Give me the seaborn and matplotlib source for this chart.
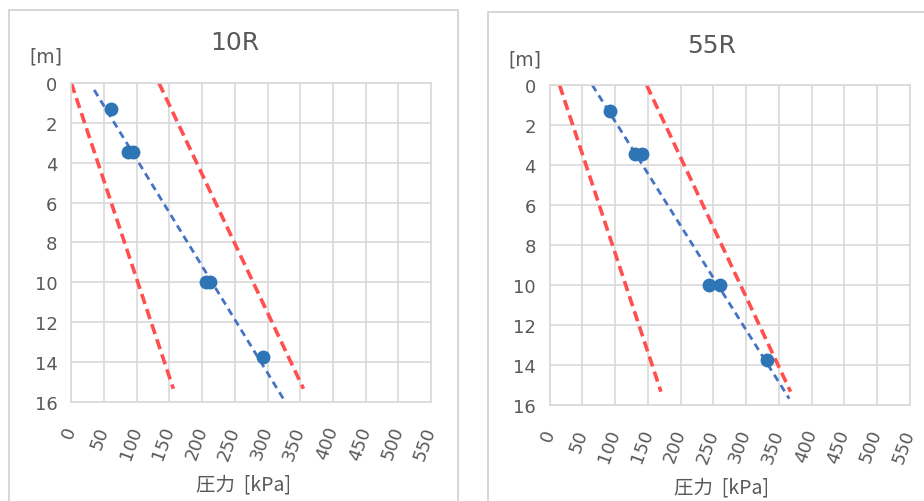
import matplotlib
matplotlib.use("Agg")
import matplotlib.pyplot as plt
import seaborn as sns
from matplotlib.patches import Rectangle

# Data
PANELS = ["10R", "55R"]

# measured points (pressure kPa, depth m)
pts_10r_p = [60, 86, 94, 206, 212, 293]
pts_10r_z = [1.3, 3.45, 3.45, 10.0, 10.0, 13.75]
pts_55r_p = [92, 131, 141, 244, 260, 332]
pts_55r_z = [1.3, 3.45, 3.45, 10.0, 10.0, 13.75]

# fitted line (blue dashed)
fit_10r_p = [35, 327]
fit_10r_z = [0.35, 16.0]
fit_55r_p = [65, 366]
fit_55r_z = [0.0, 15.7]

# bounds (red dashed)
low_10r_p = [0, 156]
high_10r_p = [134, 355]
low_55r_p = [15, 170]
high_55r_p = [148, 368]
bound_z = [0.0, 15.35]

x_ticks = list(range(0, 551, 50))
y_ticks = list(range(0, 17, 2))

BLUE_PT = "#2E75B6"
BLUE_LN = "#4472C4"
RED = "#FF4F4F"
GRID = "#D9D9D9"
TXT = "#595959"

sns.set_theme(style="white")
plt.rcParams["font.family"] = ["DejaVu Sans", "Noto Sans CJK JP"]

fig = plt.figure(figsize=(9.24, 5.02), dpi=100)
W, H = 924, 502

# panel frames
fig.patches.append(Rectangle((9 / W, -0.1), (458 - 9) / W, (H - 11) / H + 0.1,
                             transform=fig.transFigure, fill=False, edgecolor="#D0D0D0", lw=1.2))
fig.patches.append(Rectangle((488 / W, -0.1), 0.5, (H - 13) / H + 0.1,
                             transform=fig.transFigure, fill=False, edgecolor="#D0D0D0", lw=1.2))

boxes = [(71.3, 84, 431, 402.7), (549.7, 86, 909.7, 405.7)]
title_pos = [(235, 43), (712, 46)]
unit_pos = [(46, 57), (525, 60)]
xlabel_pos = [(243, 485), (722, 488)]

data = [
    (pts_10r_p, pts_10r_z, fit_10r_p, fit_10r_z, low_10r_p, high_10r_p),
    (pts_55r_p, pts_55r_z, fit_55r_p, fit_55r_z, low_55r_p, high_55r_p),
]

for i, name in enumerate(PANELS):
    x0, y0, x1, y1 = boxes[i]
    ax = fig.add_axes([x0 / W, (H - y1) / H, (x1 - x0) / W, (y1 - y0) / H])
    pp, pz, fp, fz, lp, hp = data[i]

    sns.lineplot(x=lp, y=bound_z, ax=ax, color=RED, lw=2.6, sort=False).lines[-1].set_dashes([2.9, 1.5])
    sns.lineplot(x=hp, y=bound_z, ax=ax, color=RED, lw=2.6, sort=False).lines[-1].set_dashes([2.9, 1.5])
    sns.lineplot(x=fp, y=fz, ax=ax, color=BLUE_LN, lw=2.0, sort=False).lines[-1].set_dashes([2.6, 1.8])
    sns.scatterplot(x=pp, y=pz, ax=ax, color=BLUE_PT, s=100, edgecolor=BLUE_PT,
                    linewidth=0, zorder=5)

    ax.set_xlim(0, 550)
    ax.set_ylim(16, 0)
    ax.set_xticks(x_ticks)
    ax.set_yticks(y_ticks)
    ax.grid(True, color=GRID, lw=1.2)
    ax.set_axisbelow(True)
    for s in ax.spines.values():
        s.set_color(GRID)
        s.set_linewidth(1.2)
    ax.tick_params(axis="both", length=0, colors=TXT, labelsize=13)
    ax.tick_params(axis="y", pad=10)
    ax.tick_params(axis="x", pad=18)
    for lab in ax.get_xticklabels():
        lab.set_rotation(70)
        lab.set_rotation_mode("anchor")
        lab.set_ha("right")
        lab.set_va("center")
    ax.set_xlabel("")
    ax.set_ylabel("")

    tx, ty = title_pos[i]
    fig.text(tx / W, 1 - ty / H, name, ha="center", va="center", fontsize=18, color=TXT)
    ux, uy = unit_pos[i]
    fig.text(ux / W, 1 - uy / H, "[m]", ha="center", va="center", fontsize=13.5, color=TXT)
    lx, ly = xlabel_pos[i]
    fig.text(lx / W, 1 - ly / H, "圧力  [kPa]", ha="center", va="center", fontsize=14,
             color=TXT, family=["Noto Sans CJK JP", "DejaVu Sans"])

fig.savefig("out.png", dpi=100)
